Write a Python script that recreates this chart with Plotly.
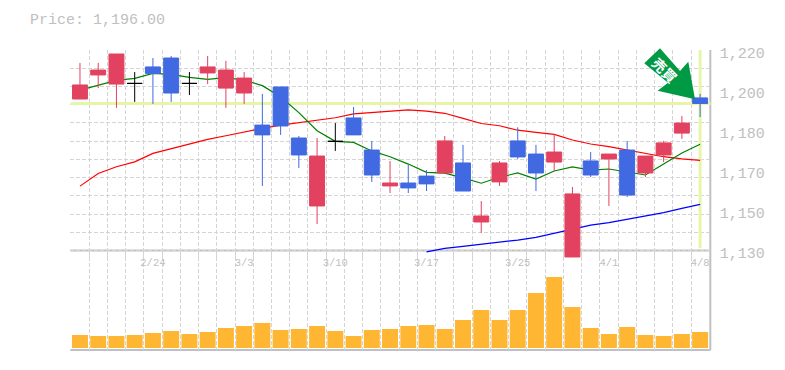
import plotly.graph_objects as go

W, H = 785, 370

dates = ["2/18","2/19","2/20","2/21","2/24","2/25","2/26","2/27","2/28","3/3","3/4","3/5","3/6","3/7",
         "3/10","3/11","3/12","3/13","3/14","3/17","3/18","3/19","3/21","3/24","3/25","3/26","3/27",
         "3/28","3/31","4/1","4/2","4/3","4/4","4/7","4/8"]
label_dates = ["2/24","3/3","3/10","3/17","3/25","4/1","4/8"]

open_ = [1198.0,1208.8,1204.7,1205.0,1212.4,1216.4,1205.0,1209.7,1202.9,1200.7,1186.3,1203.4,1180.5,1150.0,
         1179.0,1189.5,1175.1,1159.0,1160.3,1163.4,1164.8,1169.3,1142.8,1160.8,1179.2,1173.3,1169.7,
         1127.1,1170.2,1171.1,1175.1,1164.8,1172.9,1182.7,1198.5]
high = [1214.2,1214.2,1218.2,1210.1,1216.4,1217.3,1210.1,1217.3,1215.1,1210.1,1200.3,1203.4,1181.4,1180.5,
        1187.2,1194.4,1179.2,1170.2,1168.4,1166.1,1181.4,1177.4,1152.2,1170.2,1185.3,1177.4,1182.3,
        1158.5,1174.2,1173.3,1179.2,1172.4,1179.2,1190.4,1200.3]
low = [1198.0,1202.9,1194.0,1196.7,1195.8,1196.7,1199.8,1204.7,1194.0,1195.8,1159.0,1181.9,1167.0,1141.9,
       1174.7,1181.9,1160.8,1155.8,1155.8,1156.7,1164.8,1156.7,1137.9,1159.0,1171.1,1156.7,1165.7,
       1127.1,1163.0,1150.0,1154.0,1163.0,1169.7,1180.1,1189.9]
close = [1204.3,1211.0,1218.2,1205.0,1209.5,1200.7,1205.0,1212.4,1211.0,1207.4,1181.9,1185.9,1172.9,1172.4,
         1179.0,1181.9,1163.9,1160.3,1158.1,1159.9,1179.2,1156.7,1145.5,1169.3,1172.0,1164.8,1174.2,
         1155.4,1163.9,1173.3,1154.9,1172.4,1178.3,1187.2,1196.0]
volume = [13,12,12,13,15,17,14,16,20,22,25,18,19,22,17,12,18,19,22,23,19,28,38,28,38,55,71,41,20,14,21,13,12,14,16]

ma_short = [1202.0,1204.3,1206.4,1207.3,1209.5,1209.1,1207.7,1206.8,1207.6,1206.5,1204.0,1199.0,1191.9,1183.8,
            1179.0,1178.5,1174.7,1172.1,1168.8,1165.1,1164.7,1162.6,1160.2,1162.9,1164.8,1162.1,1165.7,
            1167.5,1166.1,1166.6,1165.2,1163.9,1168.8,1173.8,1177.7]
ma_mid = [1158.9,1164.6,1167.6,1169.8,1173.6,1175.8,1177.8,1179.9,1181.5,1183.3,1184.8,1186.3,1187.5,1188.5,
          1189.6,1191.3,1192.0,1192.5,1193.1,1192.6,1191.6,1189.3,1187.0,1186.0,1184.0,1183.0,1182.1,
          1179.6,1177.8,1176.6,1175.1,1173.3,1172.1,1171.1,1170.5]
ma_long_idx = list(range(19, 35))
ma_long = [1129.4,1131.0,1131.9,1132.8,1133.8,1134.7,1135.9,1137.7,1139.5,1141.4,1142.5,1144.0,1145.5,1147.0,1148.9,1150.7]

price_labels = ["1,220","1,200","1,180","1,170","1,150","1,130"]
price_label_vals = [1218.8,1200.8,1182.8,1164.8,1146.8,1128.8]

last_price = 1196.0
title_text = "Price: 1,196.00"
marker_text = "<b>売買</b>"

RED, BLUE, ORANGE = "#E2425F", "#4169E1", "#FFB733"
GRID, AXIS, TXT, LIME = "#D4D4D4", "#C0C0C0", "#C0C0C0", "#E6F5A8"
MONO = "Liberation Mono"

idx = list(range(len(dates)))
def is_doji(i): return open_[i] == close[i]
solid = [i for i in idx if not is_doji(i)]
doji = [i for i in idx if is_doji(i)]

def px_x(p): return p / W
def px_y(p): return 1 - p / H

XR = [-0.53, 34.58]
PTOP, PBOT = 50.0, 259.4
VTOP, VBOT = 250.5, 350.0
YR = [1220 - (PBOT - PTOP) / 2.228, 1220]

fig = go.Figure()
fig.add_trace(go.Scatter(x=XR, y=[last_price, last_price], mode="lines", line=dict(color=LIME, width=3),
                         hoverinfo="skip", showlegend=False, xaxis="x", yaxis="y"))
fig.add_trace(go.Scatter(x=[34, 34], y=[1220, 1131], mode="lines", line=dict(color=LIME, width=3),
                         hoverinfo="skip", showlegend=False, xaxis="x", yaxis="y"))
fig.add_trace(go.Scatter(x=idx, y=ma_mid, mode="lines", line=dict(color="#FF0000", width=1.2), showlegend=False))
fig.add_trace(go.Scatter(x=idx, y=ma_short, mode="lines", line=dict(color="#008000", width=1.2), showlegend=False))
fig.add_trace(go.Scatter(x=ma_long_idx, y=ma_long, mode="lines", line=dict(color="#0000FF", width=1.2), showlegend=False))
fig.add_trace(go.Candlestick(
    x=solid, open=[open_[i] for i in solid], high=[high[i] for i in solid],
    low=[low[i] for i in solid], close=[close[i] for i in solid],
    increasing=dict(line=dict(color=RED, width=1), fillcolor=RED),
    decreasing=dict(line=dict(color=BLUE, width=1), fillcolor=BLUE),
    showlegend=False, whiskerwidth=0, xaxis="x", yaxis="y3"))
fig.add_trace(go.Candlestick(
    x=doji, open=[open_[i] for i in doji], high=[high[i] for i in doji],
    low=[low[i] for i in doji], close=[close[i] for i in doji],
    increasing=dict(line=dict(color="#000000", width=1), fillcolor="#000000"),
    decreasing=dict(line=dict(color="#000000", width=1), fillcolor="#000000"),
    showlegend=False, whiskerwidth=0, xaxis="x", yaxis="y3"))
fig.add_trace(go.Bar(x=idx, y=volume, width=0.877, marker=dict(color=ORANGE, line=dict(width=0)),
                     xaxis="x2", yaxis="y2", showlegend=False))

minor_x = dict(tick0=-0.5, dtick=1, showgrid=True, gridcolor=GRID, griddash="4px,2px", gridwidth=1, ticks="")
dom_x = [px_x(70.3), px_x(710.7)]
dom_price = [px_y(PBOT), px_y(PTOP)]
fig.update_layout(
    width=W, height=H, autosize=False, margin=dict(l=0, r=0, t=0, b=0, pad=0),
    paper_bgcolor="white", plot_bgcolor="rgba(0,0,0,0)", boxgap=0.18, boxgroupgap=0, boxmode="overlay", showlegend=False,
    xaxis=dict(domain=dom_x, range=XR, showticklabels=False, showgrid=False, zeroline=False, automargin=False,
               rangeslider=dict(visible=False), minor=minor_x, anchor="y", tickmode="array", tickvals=[]),
    yaxis=dict(domain=dom_price, range=YR, side="right", automargin=False,
               anchor="x", tickmode="array", tickvals=price_label_vals, ticktext=price_labels,
               tickfont=dict(family=MONO, size=15, color=TXT), showgrid=False, zeroline=False, ticks="",
               ticklabelstandoff=8,
               minor=dict(tick0=1130, dtick=90 / 11, showgrid=True, gridcolor=GRID, griddash="4px,2px",
                          gridwidth=1, ticks="")),
    yaxis3=dict(domain=dom_price, range=YR, overlaying="y", side="right", anchor="x", visible=False, automargin=False),
    xaxis2=dict(domain=dom_x, range=XR, side="top", anchor="y2", ticklabelposition="inside", automargin=False,
                tickmode="array", tickvals=[dates.index(d) for d in label_dates], ticktext=label_dates,
                tickfont=dict(family=MONO, size=10.5, color=TXT), showgrid=False, zeroline=False, ticks="",
                ticklabelstandoff=5, showline=False, minor=minor_x),
    yaxis2=dict(domain=[px_y(VBOT), px_y(VTOP)], range=[-2, 97.5], anchor="x2", side="right", automargin=False,
                showticklabels=False, showgrid=False, zeroline=False, ticks=""),
    annotations=[
        dict(text=title_text, xref="paper", yref="paper", x=px_x(27.5), y=px_y(20), xanchor="left", yanchor="middle",
             showarrow=False, font=dict(family=MONO, size=15, color=TXT)),
        dict(text=marker_text, xref="paper", yref="paper", x=px_x(665), y=px_y(70), xanchor="center", yanchor="middle",
             showarrow=False, textangle=45, font=dict(family="Noto Sans CJK JP", size=14, color="white")),
    ],
    shapes=[
        dict(type="line", xref="paper", yref="paper", x0=px_x(710.3), x1=px_x(710.3), y0=px_y(50), y1=px_y(350),
             line=dict(color=AXIS, width=2), layer="below"),
        dict(type="line", xref="paper", yref="paper", x0=px_x(70.3), x1=px_x(710.7), y0=px_y(250.5), y1=px_y(250.5),
             line=dict(color=AXIS, width=2), layer="below"),
        dict(type="line", xref="paper", yref="paper", x0=px_x(70.3), x1=px_x(710.7), y0=px_y(350), y1=px_y(350),
             line=dict(color=AXIS, width=2), layer="below"),
        dict(type="path", xref="paper", yref="paper", layer="above", line=dict(width=0), fillcolor="#009944",
             path="M {} {} L {} {} L {} {} L {} {} L {} {} L {} {} L {} {} Z".format(
                 px_x(660), px_y(48.3), px_x(644.3), px_y(63.3), px_x(668), px_y(82.7), px_x(657.7), px_y(90.7),
                 px_x(695), px_y(99.3), px_x(688.3), px_y(61.7), px_x(680), px_y(71))),
    ],
)
fig.write_html("out.html", config=dict(displayModeBar=False),
               post_script="document.body.style.margin='0';")
